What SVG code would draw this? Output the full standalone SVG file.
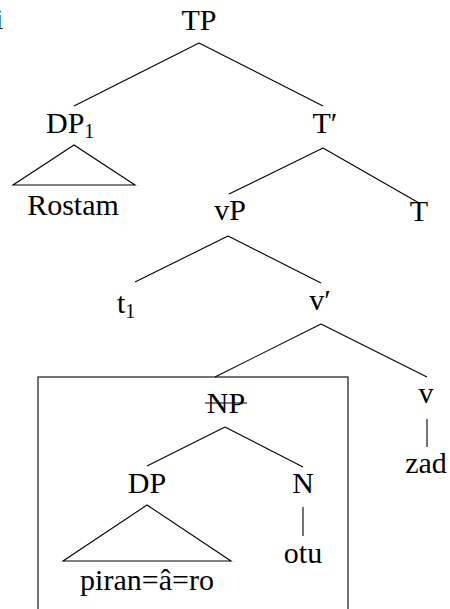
<svg xmlns="http://www.w3.org/2000/svg" width="450" height="609" viewBox="0 0 450 609">
  <style>
    text { font-family: "Liberation Serif", "Times New Roman", serif; font-size: 30px; fill: #000; }
    .c { text-anchor: middle; }
    .sub { font-size: 20px; }
    .edge { stroke: #000; stroke-width: 1.1; fill: none; }
  </style>
  <rect width="450" height="609" fill="#fff"/>

  <!-- tree branches -->
  <g id="connectors" class="edge">
    <path d="M199 43 L74 106 M199 43 L323 106"/>
    <path d="M74 145 L13 185 L135 185 Z"/>
    <path d="M323 148 L229 194 M323 148 L419 203"/>
    <path d="M228 236 L135 282 M228 236 L321 283"/>
    <path d="M321 324 L215 377 M321 324 L427 377"/>
    <path d="M427 419 L427 447"/>
    <path d="M225 427 L147 466 M225 427 L303 467"/>
    <path d="M147 505 L63 561 L231 561 Z"/>
    <path d="M303 507 L303 536"/>
  </g>

  <!-- boxed constituent, running off the bottom edge -->
  <rect id="box" x="38" y="377" width="310" height="260" class="edge"/>

  <text id="edge-i" x="-5" y="29">i</text>
  <g id="TP"><text class="c" x="199" y="30">TP</text></g>
  <g id="DP1"><text x="46" y="133">DP<tspan class="sub" dy="5">1</tspan></text></g>
  <g id="Tbar"><text class="c" x="325" y="133">T′</text></g>
  <g id="Rostam"><text class="c" x="73" y="215">Rostam</text></g>
  <g id="vP"><text class="c" x="230" y="220">vP</text></g>
  <g id="T"><text class="c" x="419" y="221">T</text></g>
  <g id="t1"><text x="117" y="313">t<tspan class="sub" dy="5">1</tspan></text></g>
  <g id="vbar"><text class="c" x="320" y="310">v′</text></g>
  <g id="v"><text class="c" x="426" y="403">v</text></g>
  <g id="zad"><text class="c" x="426" y="473">zad</text></g>
  <g id="NP">
    <text class="c" x="226" y="413">NP</text>
    <line x1="205" y1="403" x2="247" y2="403" class="edge"/>
  </g>
  <g id="DP"><text class="c" x="147" y="493">DP</text></g>
  <g id="N"><text class="c" x="303" y="493">N</text></g>
  <g id="otu"><text class="c" x="303" y="563">otu</text></g>
  <g id="piran"><text class="c" x="147" y="590">piran=â=ro</text></g>
</svg>
